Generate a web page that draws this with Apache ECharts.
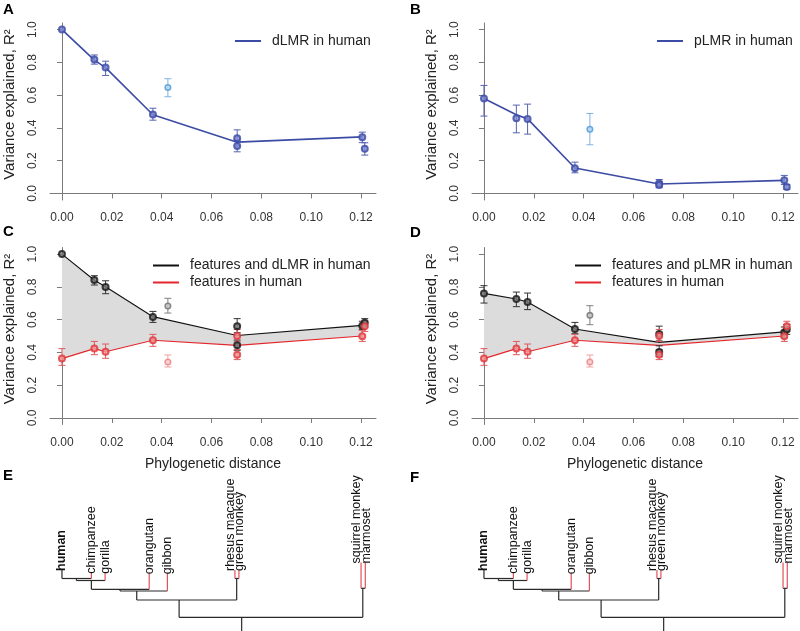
<!DOCTYPE html>
<html><head><meta charset="utf-8">
<script src="https://cdn.jsdelivr.net/npm/echarts@6/dist/echarts.min.js"></script>
<style>html,body{margin:0;padding:0;background:#fff}#c{width:800px;height:631px}</style>
</head><body><div id="c"></div>
<script>
// ---------------- DATA ----------------
const xTicks = [0, 0.02, 0.04, 0.06, 0.08, 0.10, 0.12];
const yTicks = [0, 0.2, 0.4, 0.6, 0.8, 1.0];

// phylogenetic distance of each species point (human, chimp, gorilla, orangutan, rhesus, green monkey, squirrel monkey, marmoset)
const pointX = [0, 0.013, 0.0175, 0.0365, 0.0703, 0.0703, 0.1205, 0.1215];
const gibbonX = 0.0425;
const lineX = [0, 0.013, 0.0175, 0.0365, 0.0703, 0.1205];

// A: dLMR in human
const dlmr    = [1.0, 0.817, 0.768, 0.482, 0.337, 0.289, 0.343, 0.272];
const dlmrLo  = [1.0, 0.789, 0.720, 0.447, 0.290, 0.254, 0.310, 0.234];
const dlmrHi  = [1.0, 0.845, 0.807, 0.520, 0.388, 0.325, 0.374, 0.309];
const dlmrGibbon = [0.646, 0.590, 0.700];
const dlmrLine = [1.0, 0.813, 0.768, 0.480, 0.313, 0.345];

// B: pLMR in human
const plmr    = [0.579, 0.459, 0.455, 0.154, 0.062, 0.052, 0.081, 0.039];
const plmrLo  = [0.472, 0.370, 0.362, 0.126, 0.042, 0.035, 0.055, 0.025];
const plmrHi  = [0.659, 0.539, 0.545, 0.191, 0.085, 0.070, 0.110, 0.055];
const plmrGibbon = [0.392, 0.297, 0.488];
const plmrLine = [0.579, 0.480, 0.455, 0.155, 0.058, 0.080];

// C: features and dLMR in human
const featDlmr   = [1.0, 0.841, 0.799, 0.616, 0.559, 0.443, 0.563, 0.581];
const featDlmrLo = [1.0, 0.811, 0.758, 0.583, 0.520, 0.413, 0.540, 0.555];
const featDlmrHi = [1.0, 0.868, 0.837, 0.650, 0.606, 0.475, 0.590, 0.606];
const featDlmrGibbon = [0.683, 0.640, 0.730];
const featDlmrLine = [1.0, 0.840, 0.800, 0.618, 0.503, 0.565];

// D: features and pLMR in human
const featPlmr   = [0.760, 0.726, 0.707, 0.543, 0.512, 0.402, 0.522, 0.540];
const featPlmrLo = [0.701, 0.679, 0.661, 0.514, 0.470, 0.375, 0.490, 0.510];
const featPlmrHi = [0.807, 0.768, 0.762, 0.583, 0.560, 0.440, 0.555, 0.570];
const featPlmrGibbon = [0.626, 0.569, 0.685];
const featPlmrLine = [0.760, 0.726, 0.707, 0.543, 0.461, 0.525];

// C & D: features in human
const feat   = [0.362, 0.423, 0.404, 0.474, 0.500, 0.386, 0.498, 0.559];
const featLo = [0.321, 0.386, 0.364, 0.437, 0.465, 0.356, 0.467, 0.528];
const featHi = [0.423, 0.467, 0.451, 0.510, 0.540, 0.417, 0.535, 0.590];
const featGibbon = [0.341, 0.311, 0.384];
const featLine = [0.362, 0.423, 0.404, 0.474, 0.443, 0.500];

// E & F: tree (leaf position = phylogenetic distance, height = arbitrary tree units)
const leafNames  = ['human', 'chimpanzee', 'gorilla', 'orangutan', 'gibbon', 'rhesus macaque', 'green monkey', 'squirrel monkey', 'marmoset'];
const leafDist   = [0, 0.0118, 0.0173, 0.0350, 0.0423, 0.0694, 0.0710, 0.1200, 0.1217];
const leafHeight = [61, 58.3, 58.3, 57.7, 57.7, 61, 61, 68.5, 68.5];
const nodeNames    = ['n1', 'n2', 'n3', 'n4', 'n5', 'n6', 'n7', 'root'];
const nodeChildren = [['human','chimpanzee'], ['n1','gorilla'], ['n2','orangutan'], ['n3','gibbon'],
                      ['rhesus macaque','green monkey'], ['n4','n5'], ['squirrel monkey','marmoset'], ['n6','n7']];
const nodeDist   = [0.0058, 0.0118, 0.0233, 0.0300, 0.0701, 0.0470, 0.1207, 0.0721];
const nodeHeight = [52.5, 50.5, 41.7, 40, 52.5, 31, 42.7, 13.7];
const rootBase = 0;

// ---------------- STYLE / BUILD ----------------
const FONT = '"Liberation Sans", Arial, Helvetica, sans-serif';
const AX = '#7a7a7a';
const grids = [
  {left: 50,  top: 23,    width: 326, height: 177},
  {left: 472, top: 23,    width: 326, height: 177},
  {left: 50,  top: 247.5, width: 326, height: 177},
  {left: 472, top: 247.5, width: 326, height: 177},
  {left: 50,  top: 531,   width: 326, height: 100},
  {left: 472, top: 531,   width: 326, height: 100}
];
const XMIN = -0.0048, XMAX = 0.126;

const xAxes = grids.map((g, i) => {
  if (i >= 4) return {type: 'value', gridIndex: i, min: XMIN, max: XMAX, show: false};
  const ax = {
    type: 'value', gridIndex: i, min: XMIN, max: XMAX,
    axisLine: {show: true, lineStyle: {color: AX, width: 1}},
    axisTick: {show: true, customValues: xTicks, length: 5, lineStyle: {color: AX}},
    axisLabel: {customValues: xTicks, formatter: v => v.toFixed(2), margin: 12, fontSize: 12, color: '#333', fontFamily: FONT},
    splitLine: {show: false}
  };
  if (i >= 2) {
    ax.name = 'Phylogenetic distance';
    ax.nameLocation = 'middle';
    ax.nameGap = 33;
    ax.nameTextStyle = {fontSize: 14, color: '#222', fontFamily: FONT};
  }
  return ax;
});
const yAxes = grids.map((g, i) => {
  if (i >= 4) return {type: 'value', gridIndex: i, min: 0, max: 100, show: false};
  return {
    type: 'value', gridIndex: i, min: -0.04, max: 1.04,
    axisLine: {show: true, lineStyle: {color: AX, width: 1}},
    axisTick: {show: true, customValues: yTicks, length: 5, lineStyle: {color: AX}},
    axisLabel: {customValues: yTicks, formatter: v => v.toFixed(1), rotate: 90, margin: 11, fontSize: 12, color: '#333', fontFamily: FONT},
    splitLine: {show: false},
    name: 'Variance explained, R²', nameLocation: 'middle', nameGap: 33,
    nameTextStyle: {fontSize: 15, color: '#222', fontFamily: FONT, padding: [0, 0, 0, 14]}
  };
});

function errRender(color) {
  return function (params, api) {
    const x = api.value(0), lo = api.value(1), hi = api.value(2);
    if (lo === hi) return null;
    const a = api.coord([x, lo]), b = api.coord([x, hi]);
    const hw = 3.5, st = {stroke: color, lineWidth: 1};
    return {type: 'group', children: [
      {type: 'line', shape: {x1: a[0], y1: a[1], x2: b[0], y2: b[1]}, style: st},
      {type: 'line', shape: {x1: a[0] - hw, y1: a[1], x2: a[0] + hw, y2: a[1]}, style: st},
      {type: 'line', shape: {x1: b[0] - hw, y1: b[1], x2: b[0] + hw, y2: b[1]}, style: st}
    ]};
  };
}

const series = [];
function addGroup(gi, name, vals, lo, hi, gib, line, pal) {
  series.push({
    type: 'line', name: name, xAxisIndex: gi, yAxisIndex: gi, z: 3,
    data: lineX.map((x, k) => [x, line[k]]), symbol: 'none',
    lineStyle: {color: pal.line, width: pal.lw}, itemStyle: {color: pal.line}, silent: true
  });
  series.push({
    type: 'custom', xAxisIndex: gi, yAxisIndex: gi, z: 4, silent: true,
    renderItem: errRender(pal.err), encode: {x: 0, y: [1, 2]},
    data: pointX.map((x, k) => [x, lo[k], hi[k]])
  });
  series.push({
    type: 'custom', xAxisIndex: gi, yAxisIndex: gi, z: 4, silent: true,
    renderItem: errRender(pal.gErr), encode: {x: 0, y: [1, 2]},
    data: [[gibbonX, gib[1], gib[2]]]
  });
  series.push({
    type: 'scatter', xAxisIndex: gi, yAxisIndex: gi, z: 5, silent: true,
    symbol: 'circle', symbolSize: 6,
    itemStyle: {color: pal.fill, borderColor: pal.pt, borderWidth: 2},
    data: pointX.map((x, k) => [x, vals[k]])
  });
  series.push({
    type: 'scatter', xAxisIndex: gi, yAxisIndex: gi, z: 5, silent: true,
    symbol: 'circle', symbolSize: 5.5,
    itemStyle: {color: pal.gFill, borderColor: pal.gPt, borderWidth: 1.6},
    data: [[gibbonX, gib[0]]]
  });
}
function addArea(gi, upper, lower) {
  series.push({
    type: 'custom', xAxisIndex: gi, yAxisIndex: gi, z: 1, silent: true,
    encode: {x: 0, y: 1}, data: [[lineX[0], upper[0]]],
    renderItem: function (params, api) {
      const pts = lineX.map((x, k) => api.coord([x, upper[k]]))
        .concat(lineX.map((x, k) => api.coord([x, lower[k]])).reverse());
      return {type: 'polygon', shape: {points: pts}, style: {fill: '#dcdcdc'}};
    }
  });
}

const BLUE  = {line: '#3c4ca4', lw: 1.6, err: '#5563b0', pt: '#3a4aa6', fill: '#7f8ad0', gErr: '#7fb2e2', gPt: '#4b98d6', gFill: '#b9d7f2'};
const BLACK = {line: '#111111', lw: 1.1, err: '#333333', pt: '#151515', fill: '#7a7a7a', gErr: '#808080', gPt: '#707070', gFill: '#c8c8c8'};
const RED   = {line: '#e3262b', lw: 1.1, err: '#e05a5e', pt: '#e0353a', fill: '#f09a9a', gErr: '#f0a0a0', gPt: '#ec8080', gFill: '#f8d2d2'};

addGroup(0, 'dLMR in human', dlmr, dlmrLo, dlmrHi, dlmrGibbon, dlmrLine, BLUE);
addGroup(1, 'pLMR in human', plmr, plmrLo, plmrHi, plmrGibbon, plmrLine, BLUE);
addArea(2, featDlmrLine, featLine);
addGroup(2, 'features and dLMR in human', featDlmr, featDlmrLo, featDlmrHi, featDlmrGibbon, featDlmrLine, BLACK);
addGroup(2, 'features in human', feat, featLo, featHi, featGibbon, featLine, RED);
addArea(3, featPlmrLine, featLine);
addGroup(3, 'features and pLMR in human', featPlmr, featPlmrLo, featPlmrHi, featPlmrGibbon, featPlmrLine, BLACK);
addGroup(3, 'features in human', feat, featLo, featHi, featGibbon, featLine, RED);

// tree segments
const pos = {};
leafNames.forEach((n, i) => pos[n] = {x: leafDist[i], h: leafHeight[i], leaf: true});
nodeNames.forEach((n, i) => pos[n] = {x: nodeDist[i], h: nodeHeight[i], leaf: false});
const segs = [];
nodeNames.forEach((n, i) => {
  const [c1, c2] = nodeChildren[i];
  segs.push([pos[c1].x, nodeHeight[i], pos[c2].x, nodeHeight[i], 0]);
  [c1, c2].forEach(c => {
    segs.push([pos[c].x, pos[c].h, pos[c].x, nodeHeight[i], (pos[c].leaf && c !== 'human') ? 1 : 0]);
  });
});
const root = pos['root'];
segs.push([root.x, root.h, root.x, rootBase, 0]);

const labelShift = leafDist.map((d, i) => {
  if (i + 1 < leafDist.length && leafDist[i + 1] - d < 0.003) return -4;
  if (i > 0 && d - leafDist[i - 1] < 0.003) return 1;
  return 0;
});

[4, 5].forEach(gi => {
  series.push({
    type: 'custom', xAxisIndex: gi, yAxisIndex: gi, silent: true, z: 2,
    encode: {x: [0, 2], y: [1, 3]}, data: segs,
    renderItem: function (params, api) {
      const a = api.coord([api.value(0), api.value(1)]);
      const b = api.coord([api.value(2), api.value(3)]);
      return {type: 'line', shape: {x1: a[0], y1: a[1], x2: b[0], y2: b[1]},
        style: {stroke: api.value(4) === 1 ? '#e0525a' : '#2a2a2a', lineWidth: 1.2}};
    }
  });
  series.push({
    type: 'custom', xAxisIndex: gi, yAxisIndex: gi, silent: true, z: 3,
    encode: {x: 0, y: 1}, data: leafDist.map((d, i) => [d, leafHeight[i]]),
    renderItem: function (params, api) {
      const i = params.dataIndex;
      const p = api.coord([api.value(0), api.value(1)]);
      return {type: 'text', x: p[0] + labelShift[i], y: p[1] + 1, rotation: Math.PI / 2,
        style: {text: leafNames[i], font: (i === 0 ? 'bold ' : '') + '12.5px ' + FONT,
          fill: '#111', align: 'left', verticalAlign: 'middle'}};
    }
  });
});

const legText = {fontSize: 14, color: '#222', fontFamily: FONT, padding: [0, 0, 0, 6], lineHeight: 17};
const legCommon = {icon: 'rect', itemWidth: 26, itemHeight: 2, selectedMode: false, padding: 0, textStyle: legText};
const legend = [
  Object.assign({data: ['dLMR in human'], left: 235, top: 32.5}, legCommon),
  Object.assign({data: ['pLMR in human'], left: 657, top: 32.5}, legCommon),
  Object.assign({data: ['features and dLMR in human', 'features in human'], left: 153, top: 257, orient: 'vertical', itemGap: 0}, legCommon),
  Object.assign({data: ['features and pLMR in human', 'features in human'], left: 575, top: 257, orient: 'vertical', itemGap: 0}, legCommon)
];

const letters = [['A', 3, 2], ['B', 410, 2], ['C', 3, 224], ['D', 410, 225], ['E', 3, 468], ['F', 410, 470]];
const graphic = letters.map(l => ({type: 'text', left: l[1], top: l[2],
  style: {text: l[0], font: 'bold 15px ' + FONT, fill: '#000'}}));

const chart = echarts.init(document.getElementById('c'), null, {renderer: 'canvas'});
chart.setOption({
  animation: false,
  backgroundColor: '#fff',
  textStyle: {fontFamily: FONT},
  grid: grids,
  xAxis: xAxes,
  yAxis: yAxes,
  legend: legend,
  graphic: graphic,
  series: series
});
</script></body></html>
